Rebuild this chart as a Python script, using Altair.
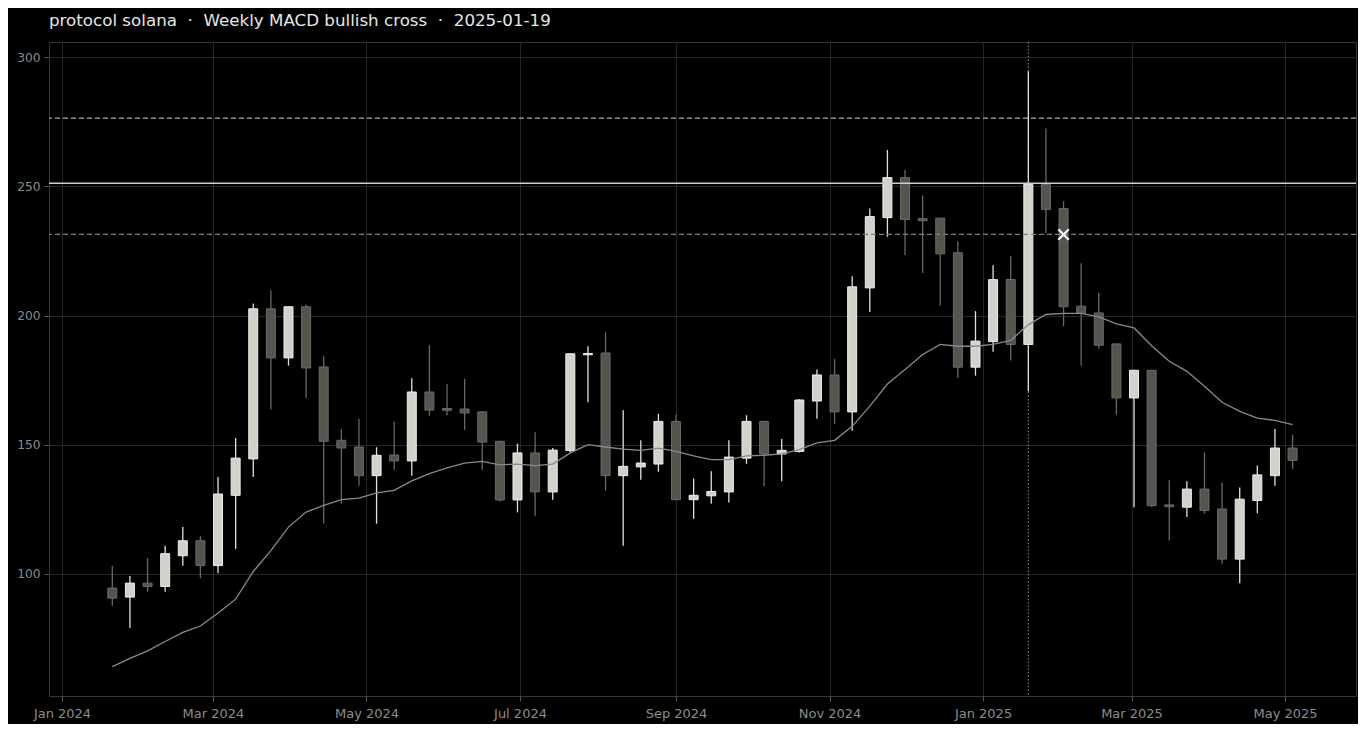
import altair as alt
import pandas as pd

# ---- data ----
weeks = pd.date_range("2024-01-21", periods=68, freq="7D").strftime("%Y-%m-%d").tolist()

opens = [94.5, 91.0, 96.4, 95.1, 107.0, 112.8, 103.2, 130.4, 144.5, 202.6,
         183.6, 203.4, 180.1, 151.7, 149.1, 138.0, 146.0, 143.7, 170.4, 164.0,
         163.8, 162.7, 151.3, 128.6, 146.8, 131.7, 147.7, 184.8, 185.5, 138.0,
         141.4, 142.5, 159.0, 128.7, 130.2, 131.7, 144.8, 159.0, 146.4, 147.4,
         166.9, 177.0, 162.7, 210.7, 237.9, 253.4, 237.5, 237.7, 224.3, 180.0,
         189.9, 214.0, 188.8, 250.8, 241.4, 203.6, 201.0, 189.0, 168.1, 178.8,
         126.7, 125.8, 132.8, 125.1, 105.7, 128.4, 138.0, 148.7]
highs = [103.1, 99.2, 106.1, 110.9, 118.1, 114.7, 137.5, 152.6, 204.7, 209.8,
         203.6, 204.3, 184.2, 156.1, 160.0, 149.0, 159.0, 175.7, 188.5, 173.5,
         175.5, 162.9, 151.5, 150.4, 154.8, 148.7, 185.4, 188.1, 193.5, 163.3,
         151.7, 162.0, 161.6, 136.9, 139.7, 151.7, 161.4, 159.3, 152.2, 167.6,
         179.1, 183.2, 215.2, 241.4, 264.1, 256.3, 246.5, 237.9, 228.8, 201.7,
         219.5, 223.0, 294.6, 272.4, 244.3, 220.2, 208.8, 189.2, 179.0, 179.0,
         136.2, 135.8, 147.0, 135.4, 133.4, 141.9, 156.1, 153.8]
lows = [87.6, 79.0, 93.1, 93.1, 103.1, 98.3, 100.3, 109.6, 137.5, 163.6,
        180.6, 168.1, 119.6, 127.1, 134.1, 119.4, 140.3, 138.0, 161.2, 161.4,
        155.8, 140.3, 128.0, 123.8, 122.5, 128.7, 147.0, 166.4, 132.2, 110.9,
        136.4, 139.5, 128.5, 121.3, 127.1, 127.6, 142.6, 133.8, 135.8, 147.0,
        160.0, 158.1, 155.4, 201.4, 230.5, 223.3, 216.5, 203.9, 175.8, 176.7,
        186.0, 182.6, 170.6, 232.0, 195.9, 180.6, 187.1, 161.6, 125.8, 125.8,
        112.9, 122.0, 123.3, 103.9, 96.4, 123.5, 134.1, 140.6]
closes = [90.6, 96.4, 95.1, 107.8, 112.8, 103.2, 130.9, 144.8, 202.6, 183.6,
          203.4, 179.7, 151.3, 148.7, 138.0, 145.9, 143.7, 170.4, 163.4, 163.3,
          162.3, 151.0, 128.6, 146.8, 131.7, 147.9, 185.2, 185.3, 138.0, 141.6,
          142.9, 159.0, 128.7, 130.4, 131.9, 145.2, 159.0, 146.5, 147.8, 167.3,
          177.0, 162.7, 211.1, 238.3, 253.4, 237.2, 236.7, 223.9, 180.0, 190.1,
          213.9, 188.8, 250.8, 241.1, 203.4, 200.8, 188.5, 168.1, 178.8, 126.4,
          126.0, 132.8, 124.5, 105.7, 128.9, 138.3, 148.7, 143.9]
ma = [64.1, 67.3, 70.2, 73.8, 77.3, 79.8, 84.8, 90.2, 100.9, 109.0,
      118.1, 123.9, 126.5, 128.7, 129.3, 131.3, 132.3, 136.0, 138.8, 141.0,
      142.9, 143.5, 142.2, 142.5, 141.9, 142.5, 146.8, 150.0, 149.1, 148.3,
      147.8, 148.7, 147.4, 145.7, 144.2, 144.2, 145.7, 145.9, 146.4, 148.1,
      150.7, 151.7, 157.1, 164.9, 173.5, 179.1, 184.9, 188.8, 188.1, 188.1,
      188.8, 190.4, 196.5, 200.4, 200.8, 200.8, 199.5, 196.8, 195.2, 188.3,
      182.3, 178.4, 172.6, 166.4, 162.9, 160.3, 159.4, 157.8]

SEP = "\u00a0\u00a0\u00b7\u00a0\u00a0"
title_text = "protocol solana" + SEP + "Weekly MACD bullish cross" + SEP + "2025-01-19"
target_level = 276.4
entry_level = 251.2
stop_level = 231.4
signal_date = "2025-01-19"
exit_date = "2025-02-02"
exit_level = 231.4

tick_months = [(2024, 1), (2024, 3), (2024, 5), (2024, 7), (2024, 9), (2024, 11),
               (2025, 1), (2025, 3), (2025, 5)]
y_ticks = [100, 150, 200, 250, 300]

# ---- build table ----
df = pd.DataFrame({"date": weeks, "open": opens, "high": highs,
                   "low": lows, "close": closes, "ma": ma})
df["dir"] = ["up" if c >= o else "down" for o, c in zip(opens, closes)]

FONT = "DejaVu Sans"
x_scale = alt.Scale(type="utc", nice=False, padding=0, domain=[
    alt.DateTime(year=2023, month=12, date=26, hours=20, utc=True),
    alt.DateTime(year=2025, month=5, date=29, hours=5, utc=True)])
y_scale = alt.Scale(domain=[52.7, 305.9], nice=False, zero=False, padding=0)

x_axis = alt.Axis(values=[alt.DateTime(year=y, month=m, date=1, utc=True) for y, m in tick_months],
                  format="%b %Y", title=None, labelFlush=False, labelFontSize=13, labelPadding=6)
y_axis = alt.Axis(values=y_ticks, title=None, labelFontSize=12.2, labelPadding=4)

base = alt.Chart(df)
X = alt.X("date:T", scale=x_scale, axis=x_axis)

wick_color = alt.Color("dir:N", scale=alt.Scale(domain=["up", "down"], range=["#e2e0da", "#6a6864"]), legend=None)
body_fill = alt.Color("dir:N", scale=alt.Scale(domain=["up", "down"], range=["#d3d1cb", "#56544f"]), legend=None)
body_stroke = alt.Stroke("dir:N", scale=alt.Scale(domain=["up", "down"], range=["#eeede8", "#6c6a65"]), legend=None)

wicks = base.mark_rule(strokeWidth=1.3).encode(
    x=X, y=alt.Y("low:Q", scale=y_scale, axis=y_axis), y2="high:Q", color=wick_color)

bodies = base.mark_bar(size=9, strokeWidth=1).encode(
    x=X, y=alt.Y("open:Q", scale=y_scale, axis=y_axis), y2="close:Q",
    fill=body_fill, stroke=body_stroke)

ma_line = base.mark_line(color="#8a8a8a", strokeWidth=1.3).encode(
    x=X, y=alt.Y("ma:Q", scale=y_scale, axis=y_axis))

levels = pd.DataFrame({"level": [target_level, entry_level, stop_level],
                       "kind": ["target", "entry", "stop"]})
target_rule = alt.Chart(levels[levels.kind == "target"]).mark_rule(
    color="#a9a9a9", strokeWidth=1.2, strokeDash=[5, 3]).encode(
    y=alt.Y("level:Q", scale=y_scale, axis=y_axis))
entry_rule = alt.Chart(levels[levels.kind == "entry"]).mark_rule(
    color="#cfcfcf", strokeWidth=1.6).encode(
    y=alt.Y("level:Q", scale=y_scale, axis=y_axis))
stop_rule = alt.Chart(levels[levels.kind == "stop"]).mark_rule(
    color="#7c7c7c", strokeWidth=1.2, strokeDash=[5, 3]).encode(
    y=alt.Y("level:Q", scale=y_scale, axis=y_axis))

signal_rule = alt.Chart(pd.DataFrame({"date": [signal_date]})).mark_rule(
    color="#8a8a8a", strokeWidth=1, strokeDash=[1.5, 2]).encode(x=X)

exit_mark = alt.Chart(pd.DataFrame({"date": [exit_date], "price": [exit_level]})).mark_point(
    shape="M-1,-1L1,1M-1,1L1,-1", size=110, filled=False, stroke="#ffffff",
    strokeWidth=2.2, opacity=1).encode(
    x=X, y=alt.Y("price:Q", scale=y_scale, axis=y_axis))

chart = alt.layer(
    signal_rule, wicks, bodies, ma_line, target_rule, entry_rule, stop_rule, exit_mark
).properties(
    width=1307, height=654,
    autosize="none",
    padding={"left": 41, "top": 34, "right": 2, "bottom": 28},
    background="#000000",
    title=alt.TitleParams(title_text, anchor="start", frame="group", fontSize=16.7,
                          font=FONT, fontWeight="normal", color="#e6e6e6", offset=12),
).configure_view(
    stroke="#363636", strokeWidth=1, fill="#000000"
).configure_axis(
    labelFont=FONT, labelColor="#8c8c8c",
    tickColor="#5a5a5a", tickSize=5,
    domain=False, grid=True, gridColor="#262626", gridWidth=1, zindex=1,
)

chart.save("out.html", embed_options={"renderer": "svg", "actions": False})
